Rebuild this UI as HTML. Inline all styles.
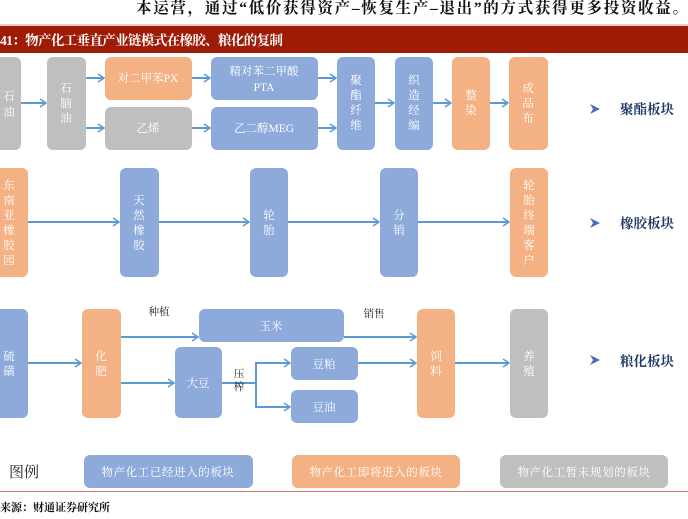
<!DOCTYPE html>
<html><head><meta charset="utf-8"><style>
html,body{margin:0;padding:0;background:#fff;}
svg{display:block;font-family:"Liberation Serif","Noto Serif CJK SC","Noto Sans CJK SC",serif;}
</style></head><body>
<svg width="688" height="519" viewBox="0 0 688 519" xmlns="http://www.w3.org/2000/svg">
<defs>
<marker id="a" markerWidth="8" markerHeight="10" refX="7" refY="5" orient="auto" markerUnits="userSpaceOnUse">
<path d="M1,1 L7,5 L1,9" fill="none" stroke="#5b9bd5" stroke-width="1.6"/>
</marker>
</defs>
<text x="136" y="13" font-size="15.5" font-weight="bold" fill="#111" textLength="552" lengthAdjust="spacing">本运营，通过“低价获得资产–恢复生产–退出”的方式获得更多投资收益。</text>
<rect x="0" y="24" width="688" height="2" fill="#e8c8c0"/>
<rect x="0" y="26" width="688" height="27" fill="#9e1b06"/>
<text x="0" y="45" font-size="13.5" font-weight="bold" fill="#fff" textLength="283" lengthAdjust="spacing">41：物产化工垂直产业链模式在橡胶、粮化的复制</text>

<g stroke="#5b9bd5" stroke-width="2" fill="none" marker-end="url(#a)">
<line x1="21" y1="103" x2="46" y2="103"/>
<line x1="86" y1="78" x2="104" y2="78"/>
<line x1="86" y1="128" x2="104" y2="128"/>
<line x1="192" y1="78" x2="210" y2="78"/>
<line x1="192" y1="128" x2="210" y2="128"/>
<line x1="318" y1="78" x2="336" y2="78"/>
<line x1="318" y1="128" x2="336" y2="128"/>
<line x1="375" y1="103" x2="394" y2="103"/>
<line x1="433" y1="103" x2="451" y2="103"/>
<line x1="490" y1="103" x2="508" y2="103"/>
<line x1="28" y1="222" x2="119" y2="222"/>
<line x1="159" y1="222" x2="249" y2="222"/>
<line x1="288" y1="222" x2="379" y2="222"/>
<line x1="418" y1="222" x2="509" y2="222"/>
<line x1="28" y1="363" x2="81" y2="363"/>
<line x1="121" y1="337" x2="198" y2="337"/>
<line x1="121" y1="383" x2="174" y2="383"/>
<line x1="344" y1="337" x2="416" y2="337"/>
<line x1="358" y1="363" x2="416" y2="363"/>
<line x1="455" y1="363" x2="509" y2="363"/>
<line x1="222" y1="383" x2="256" y2="383" marker-end="none"/>
<polyline points="256,407 256,363 290,363"/>
<polyline points="256,383 256,407 290,407"/>
</g>

<g fill="#8eaadb">
<rect x="211" y="57" width="107" height="43" rx="6"/>
<rect x="211" y="107" width="107" height="43" rx="6"/>
<rect x="337" y="57" width="38" height="93" rx="6"/>
<rect x="395" y="57" width="38" height="93" rx="6"/>
<rect x="120" y="168" width="39" height="109" rx="6"/>
<rect x="250" y="168" width="38" height="109" rx="6"/>
<rect x="380" y="168" width="38" height="109" rx="6"/>
<rect x="-10" y="309" width="38" height="109" rx="6"/>
<rect x="199" y="309" width="145" height="33" rx="6"/>
<rect x="175" y="347" width="47" height="71" rx="6"/>
<rect x="291" y="347" width="67" height="33" rx="6"/>
<rect x="291" y="390" width="67" height="33" rx="6"/>
<rect x="84" y="455" width="169" height="33" rx="6"/>
</g>
<g fill="#f4b183">
<rect x="105" y="57" width="87" height="43" rx="6"/>
<rect x="452" y="57" width="38" height="93" rx="6"/>
<rect x="509" y="57" width="39" height="93" rx="6"/>
<rect x="-10" y="168" width="38" height="109" rx="6"/>
<rect x="510" y="168" width="38" height="109" rx="6"/>
<rect x="82" y="309" width="39" height="109" rx="6"/>
<rect x="417" y="309" width="38" height="109" rx="6"/>
<rect x="292" y="455" width="168" height="33" rx="6"/>
</g>
<g fill="#bfbfbf">
<rect x="-10" y="57" width="31" height="93" rx="6"/>
<rect x="47" y="57" width="39" height="93" rx="6"/>
<rect x="105" y="107" width="87" height="43" rx="6"/>
<rect x="510" y="309" width="38" height="109" rx="6"/>
<rect x="500" y="455" width="168" height="33" rx="6"/>
</g>

<g fill="#fff" font-size="11.5" text-anchor="middle">
<text x="148" y="82">对二甲苯PX</text>
<text x="148" y="132">乙烯</text>
<text x="264" y="75">精对苯二甲酸</text>
<text x="264" y="91">PTA</text>
<text x="264" y="132">乙二醇MEG</text>
<text x="271" y="330">玉米</text>
<text x="198" y="387">大豆</text>
<text x="324" y="368">豆粕</text>
<text x="324" y="411">豆油</text>
<text x="168" y="476" letter-spacing="0.6">物产化工已经进入的板块</text>
<text x="376" y="476" letter-spacing="0.6">物产化工即将进入的板块</text>
<text x="584" y="476" letter-spacing="0.6">物产化工暂未规划的板块</text>
</g>
<g fill="#fff" font-size="11.5" text-anchor="middle">
<text x="9" y="100">石</text><text x="9" y="116">油</text>
<text x="66" y="92">石</text><text x="66" y="107">脑</text><text x="66" y="122">油</text>
<text x="356" y="84">聚</text><text x="356" y="99">酯</text><text x="356" y="114">纤</text><text x="356" y="129">维</text>
<text x="414" y="84">织</text><text x="414" y="99">造</text><text x="414" y="114">经</text><text x="414" y="129">编</text>
<text x="471" y="99">整</text><text x="471" y="114">染</text>
<text x="528" y="92">成</text><text x="528" y="107">品</text><text x="528" y="122">布</text>
<text x="9" y="189">东</text><text x="9" y="204">南</text><text x="9" y="219">亚</text><text x="9" y="234">橡</text><text x="9" y="249">胶</text><text x="9" y="264">园</text>
<text x="139" y="204">天</text><text x="139" y="219">然</text><text x="139" y="234">橡</text><text x="139" y="249">胶</text>
<text x="269" y="219">轮</text><text x="269" y="234">胎</text>
<text x="399" y="219">分</text><text x="399" y="234">销</text>
<text x="529" y="189">轮</text><text x="529" y="204">胎</text><text x="529" y="219">终</text><text x="529" y="234">端</text><text x="529" y="249">客</text><text x="529" y="264">户</text>
<text x="9" y="360">硫</text><text x="9" y="375">磺</text>
<text x="101" y="360">化</text><text x="101" y="375">肥</text>
<text x="436" y="360">饲</text><text x="436" y="375">料</text>
<text x="529" y="360">养</text><text x="529" y="375">殖</text>
</g>
<g fill="#222" font-size="10.5" text-anchor="middle">
<text x="159" y="315">种植</text>
<text x="374" y="317">销售</text>
<text x="239" y="377">压</text><text x="239" y="390">榨</text>
</g>
<g fill="#1f3864" font-size="13.5" font-weight="bold">
<path d="M590,104 L600,109 L590,114 L593,109Z" fill="#4a6fb5"/>
<text x="620" y="114">聚酯板块</text>
<path d="M590,218 L600,223 L590,228 L593,223Z" fill="#4a6fb5"/>
<text x="620" y="228">橡胶板块</text>
<path d="M590,355 L600,360 L590,365 L593,360Z" fill="#4a6fb5"/>
<text x="620" y="366">粮化板块</text>
</g>
<text x="9" y="477" font-size="15" fill="#222">图例</text>
<rect x="0" y="491" width="688" height="1" fill="#d9776a"/>
<text x="0" y="511" font-size="11" font-weight="bold" fill="#111">来源：财通证券研究所</text>
</svg>
</body></html>
